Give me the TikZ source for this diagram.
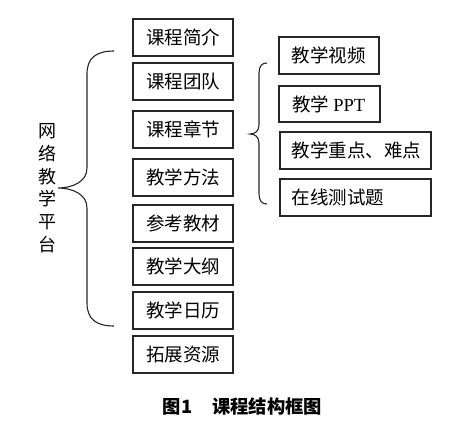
\documentclass[tikz,border=0pt]{standalone}
\usepackage{fontspec}
\setmainfont{Noto Sans CJK SC}
\newfontfamily\latserif{Liberation Serif}
\begin{document}
\begin{tikzpicture}[x=1pt,y=-1pt,
  box/.style={draw=black!85,line width=1.1pt,minimum width=100pt,minimum height=37pt,inner sep=0pt,
    font=\fontsize{18.5}{22.7}\selectfont},
  wbox/.style={draw=black!85,line width=1.1pt,minimum width=151pt,minimum height=37pt,inner sep=0pt},
  lbl/.style={anchor=west,inner sep=0pt,font=\fontsize{18.5}{22.7}\selectfont},
  brace/.style={draw=black!85,line width=1.1pt}]
\useasboundingbox (0,0) rectangle (456,428);
% left column
\node[box] (b1) at (183,37.5) {课程简介};
\node[box] (b2) at (183,81.5) {课程团队};
\node[box] (b3) at (183,129.5) {课程章节};
\node[box] (b4) at (183,177.5) {教学方法};
\node[box] (b5) at (183,223.5) {参考教材};
\node[box] (b6) at (183,266.5) {教学大纲};
\node[box] (b7) at (183,310.5) {教学日历};
\node[box] (b8) at (183,354.5) {拓展资源};
% right column
\node[box] (r1) at (329,55.5) {};
\node[box,minimum width=101pt,minimum height=36pt] (r2) at (329.5,104) {};
\node[wbox] (r3) at (355.5,150.5) {};
\node[wbox] (r4) at (355.5,197.5) {};
\node[lbl] (t1) at ([xshift=13pt]r1.west) {教学视频};
\node[lbl] (t2) at ([xshift=13.5pt]r2.west) {教学 {\latserif PPT}};
\node[lbl] (t3) at ([xshift=12pt]r3.west) {教学重点、难点};
\node[lbl] (t4) at ([xshift=12pt]r4.west) {在线测试题};
% vertical title
\node[align=center,inner sep=0pt,font=\fontsize{18}{22.7}\selectfont] (title) at (47,188.3)
  {网\\络\\教\\学\\平\\台};
% left brace
\draw[brace] (114,51) .. controls (96,51) and (87,58) .. (87,74)
  -- (87,168) .. controls (87,182) and (72,188) .. (58,188)
  .. controls (72,188) and (87,194) .. (87,208)
  -- (87,303) .. controls (87,319) and (96,326) .. (114,326);
% right brace
\draw[brace] (267,63) .. controls (262,63) and (259,66) .. (259,73)
  -- (259,125) .. controls (259,131) and (255,134) .. (250,134)
  .. controls (255,134) and (259,137) .. (259,143)
  -- (259,194) .. controls (259,201) and (262,204) .. (267,204);
% caption
\node[inner sep=0pt,font=\fontsize{18.3}{21}\selectfont\bfseries] (cap) at (242.5,407) {图1\hspace{1.1em}课程结构框图};
\end{tikzpicture}
\end{document}
